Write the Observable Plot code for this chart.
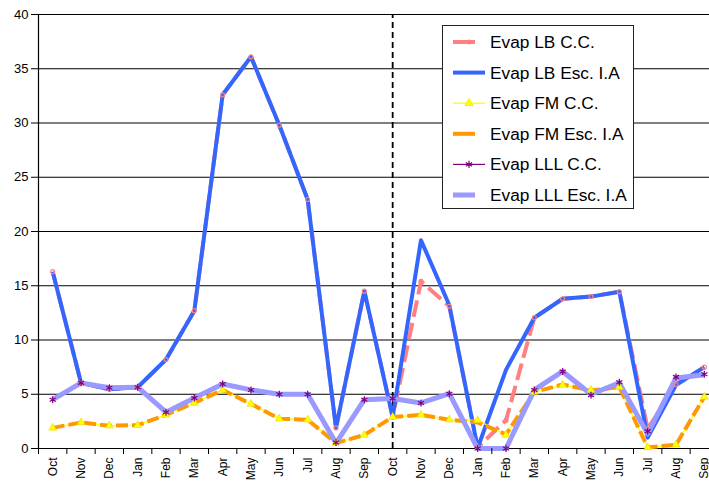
<!DOCTYPE html>
<html><head><meta charset="utf-8">
<script src="https://cdn.jsdelivr.net/npm/d3@7"></script>
<script src="https://cdn.jsdelivr.net/npm/@observablehq/plot@0.6"></script>
<style>
html,body{margin:0;padding:0;background:#fff;overflow:hidden;}
#wrap{position:relative;width:709px;height:483px;overflow:hidden;font-family:"Liberation Sans",Arial,sans-serif;}
#legend{position:absolute;left:442px;top:25px;width:190px;height:182px;border:1px solid #222;background:#fff;}
</style></head><body><div id="wrap"><div id="chart"></div><div id="legend"></div></div>
<script>
// categories (two hydrological years)
const months = ["Oct","Nov","Dec","Jan","Feb","Mar","Apr","May","Jun","Jul","Aug","Sep",
                "Oct","Nov","Dec","Jan","Feb","Mar","Apr","May","Jun","Jul","Aug","Sep"];
const yTicks = [0,5,10,15,20,25,30,35,40];
const dividerIndex = 12;

// series values
const lbCC   = [16.3, 6.05, 5.45, 5.65, 8.2, 12.7, 32.6, 36.1, 29.8, 22.95, 1.9, 14.5,
                2.9, 15.4, 13.1, 0.1, 2.6, 12.05, 13.8, 14.0, 14.45, 1.8, 5.9, 7.5];
const lbEsc  = [16.3, 6.05, 5.45, 5.65, 8.2, 12.7, 32.6, 36.1, 29.8, 22.95, 1.9, 14.5,
                2.9, 19.2, 13.2, 0.05, 7.25, 12.05, 13.8, 14.0, 14.45, 1.0, 5.85, 7.5];
const fmCC   = [1.9, 2.4, 2.1, 2.15, 3.1, 4.2, 5.4, 4.1, 2.75, 2.65, 0.5, 1.25,
                2.9, 3.1, 2.65, 2.6, 1.25, 5.2, 5.85, 5.4, 5.65, 0.1, 0.35, 4.75];
const fmEsc  = [1.9, 2.4, 2.1, 2.15, 3.1, 4.2, 5.4, 4.1, 2.75, 2.65, 0.5, 1.25,
                2.9, 3.1, 2.65, 2.4, 1.3, 5.2, 5.9, 5.35, 5.65, 0.1, 0.35, 4.75];
const lllCC  = [4.5, 6.05, 5.6, 5.65, 3.35, 4.65, 5.95, 5.4, 5.0, 5.0, 0.55, 4.5,
                4.6, 4.2, 5.05, 0, 0, 5.4, 7.1, 4.9, 6.1, 1.6, 6.6, 6.85];
const lllEsc = [4.5, 6.05, 5.6, 5.65, 3.35, 4.65, 5.95, 5.4, 5.0, 5.0, 0.5, 4.5,
                4.6, 4.2, 5.05, 0, 0, 5.4, 7.1, 5.0, 6.05, 1.35, 6.5, 6.8];

const names = ["Evap LB C.C.","Evap LB Esc. I.A","Evap FM C.C.","Evap FM Esc. I.A","Evap LLL C.C.","Evap LLL Esc. I.A"];

const series = [
  {name: names[0], values: lbCC,   color:"#FF8080", width:4,   dash:"17,6", marker:"circle",   legendLen:22},
  {name: names[1], values: lbEsc,  color:"#3366FF", width:4,   dash:null,   marker:null,       legendLen:32},
  {name: names[2], values: fmCC,   color:"#FFFF00", width:1.3, dash:null,   marker:"triangle", legendLen:32},
  {name: names[3], values: fmEsc,  color:"#FF9900", width:4,   dash:"12,4", marker:null,       legendLen:22},
  {name: names[4], values: lllCC,  color:"#800080", width:1.2, dash:null,   marker:"asterisk", legendLen:32},
  {name: names[5], values: lllEsc, color:"#9999FF", width:5,   dash:null,   marker:null,       legendLen:22}
];

const idx = d3.range(months.length);
const boundaries = d3.range(months.length + 1).map(i => i - 0.5);

const lineMarks = series.map(s => Plot.line(s.values, {
  x: (d, i) => i, y: d => d, stroke: s.color, strokeWidth: s.width,
  strokeDasharray: s.dash, strokeLinejoin: "round", strokeLinecap: "butt"
}));

const markerMarks = [
  Plot.dot(lbCC, {x: (d,i)=>i, y: d=>d, r: 2, stroke: "#FF8080", fill: "none", strokeWidth: 1.2}),
  Plot.dot(fmCC, {x: (d,i)=>i, y: d=>d, r: 2.9, symbol: "triangle", fill: "#FFFF00", stroke: "#E8D800", strokeWidth: 0.6}),
  Plot.dot(lllCC, {x: (d,i)=>i, y: d=>d, r: 3.3, symbol: "asterisk", stroke: "#800080", strokeWidth: 1.2})
];

const plot = Plot.plot({
  width: 709, height: 483,
  marginLeft: 38, marginRight: 0, marginTop: 14, marginBottom: 35,
  style: {fontFamily: '"Liberation Sans", Arial, sans-serif', fontSize: "13px", color: "#000", background: "#fff", overflow: "hidden"},
  x: {type: "linear", domain: [-0.5, 23.5], range: [38, 718]},
  y: {domain: [0, 40], range: [448, 14]},
  marks: [
    Plot.ruleY(yTicks, {stroke: "#000", strokeWidth: 1}),
    Plot.ruleX([dividerIndex], {y1: 0, y2: 40, stroke: "#000", strokeWidth: 1.8, strokeDasharray: "6,4"}),
    ...lineMarks,
    ...markerMarks,
    Plot.ruleX([-0.5], {y1: 0, y2: 40, stroke: "#000", strokeWidth: 1.2}),
    Plot.axisY(yTicks, {tickSize: 7, tickPadding: 3, fontSize: 13, label: null}),
    Plot.axisX(boundaries, {tickSize: 6, tickFormat: () => "", label: null}),
    Plot.axisX(idx, {tickSize: 0, tickPadding: 9, tickRotate: -90, tickFormat: i => months[i], fontSize: 12, label: null})
  ]
});
document.getElementById("chart").appendChild(plot);

// legend
const lg = d3.select("#legend").append("svg").attr("width", 190).attr("height", 182)
  .style("font-family", '"Liberation Sans", Arial, sans-serif');
series.forEach((s, k) => {
  const cy = 16 + k * 30.6;
  const g = lg.append("g");
  g.append("line").attr("x1", 10).attr("x2", 10 + s.legendLen).attr("y1", cy).attr("y2", cy)
    .attr("stroke", s.color).attr("stroke-width", s.width);
  if (s.marker === "circle") g.append("circle").attr("cx", 26).attr("cy", cy).attr("r", 2).attr("fill", "none").attr("stroke", s.color);
  if (s.marker === "triangle") g.append("path").attr("d", d3.symbol(d3.symbolTriangle, 30)()).attr("transform", `translate(26,${cy})`).attr("fill", "#FFFF00").attr("stroke", "#E8D800").attr("stroke-width", 0.6);
  if (s.marker === "asterisk") g.append("path").attr("d", d3.symbol(d3.symbolAsterisk, 35)()).attr("transform", `translate(26,${cy})`).attr("fill", "none").attr("stroke", s.color).attr("stroke-width", 1.2);
  g.append("text").attr("x", 47).attr("y", cy + 6).attr("font-size", 17.3).attr("fill", "#000").text(s.name);
});
</script></body></html>
